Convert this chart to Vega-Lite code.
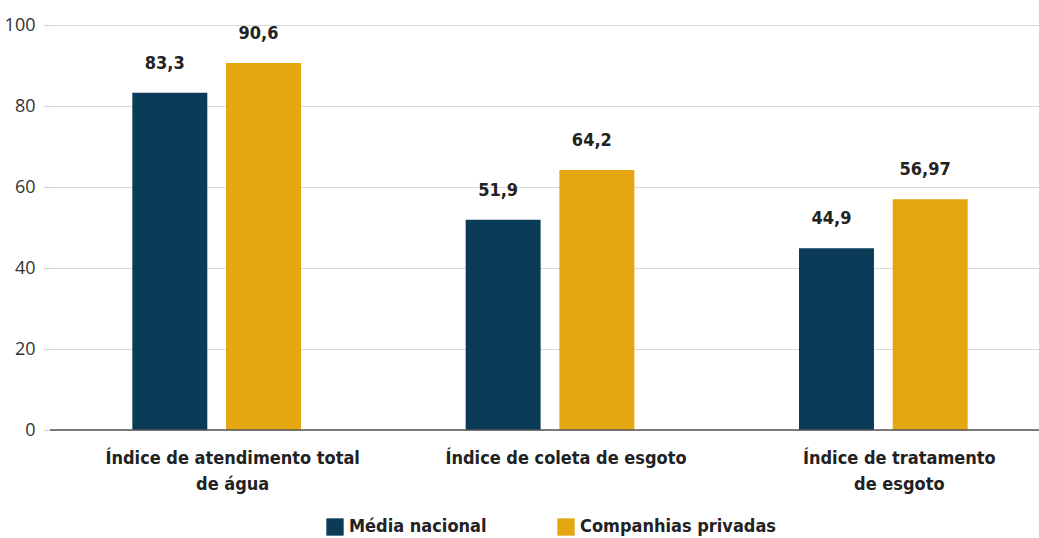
{
  "$schema": "https://vega.github.io/schema/vega-lite/v6.json",
  "autosize": "none",
  "width": 1000,
  "height": 405,
  "padding": {"left": 50, "top": 25, "right": 0, "bottom": 108},
  "config": {
    "view": {"stroke": null},
    "font": "DejaVu Sans Condensed",
    "locale": {"number": {"decimal": ",", "thousands": ".", "grouping": [3], "currency": ["R$", ""]}}
  },
  "data": {
    "values": [
      {"indice": "Índice de atendimento total|de água", "serie": "Média nacional", "valor": 83.3},
      {"indice": "Índice de atendimento total|de água", "serie": "Companhias privadas", "valor": 90.6},
      {"indice": "Índice de coleta de esgoto", "serie": "Média nacional", "valor": 51.9},
      {"indice": "Índice de coleta de esgoto", "serie": "Companhias privadas", "valor": 64.2},
      {"indice": "Índice de tratamento|de esgoto", "serie": "Média nacional", "valor": 44.9},
      {"indice": "Índice de tratamento|de esgoto", "serie": "Companhias privadas", "valor": 56.97}
    ]
  },
  "encoding": {
    "x": {
      "field": "indice", "type": "nominal", "sort": null, "title": null,
      "scale": {"paddingInner": 0.494, "paddingOuter": 0.247},
      "axis": {
        "labelExpr": "split(datum.label, '|')",
        "labelAngle": 0, "labelFontSize": 18, "labelFontWeight": "bold", "labelColor": "#222",
        "labelPadding": 19, "labelLineHeight": 26, "ticks": false, "domain": false, "labelLimit": 0,
        "labelOffset": 16
      }
    },
    "xOffset": {"field": "serie", "type": "nominal", "sort": ["Média nacional", "Companhias privadas"], "scale": {"paddingInner": 0.2, "paddingOuter": 0}},
    "y": {
      "field": "valor", "type": "quantitative", "title": null,
      "scale": {"domain": [0, 100]},
      "axis": {
        "values": [0, 20, 40, 60, 80, 100], "labelFontSize": 18, "labelColor": "#333",
        "labelPadding": 9, "tickSize": 6, "tickColor": "#cfcfcf", "gridColor": "#d9d9d9",
        "domain": false, "labelFont": "Open Sans"
      }
    }
  },
  "layer": [
    {
      "mark": {"type": "bar"},
      "encoding": {
        "color": {
          "field": "serie", "type": "nominal", "sort": ["Média nacional", "Companhias privadas"],
          "scale": {"range": ["#0a3b57", "#e4a611"]},
          "legend": {
            "title": null, "orient": "none", "legendX": 276, "legendY": 493, "direction": "horizontal",
            "symbolType": "square", "symbolSize": 300, "symbolStrokeWidth": 0,
            "labelFontSize": 18, "labelFontWeight": "bold", "labelColor": "#222",
            "columnPadding": 70, "labelOffset": 5, "labelLimit": 0
          }
        }
      }
    },
    {
      "mark": {"type": "text", "dy": -29, "dx": -5, "fontSize": 18, "fontWeight": "bold", "color": "#222"},
      "encoding": {
        "text": {"field": "valor", "type": "quantitative", "format": "~g"}
      }
    },
    {
      "data": {"values": [{"zero": 0}]},
      "mark": {"type": "rule", "color": "#555", "strokeWidth": 1.5},
      "encoding": {"y": {"field": "zero", "type": "quantitative"}, "x": null, "xOffset": null}
    }
  ]
}
